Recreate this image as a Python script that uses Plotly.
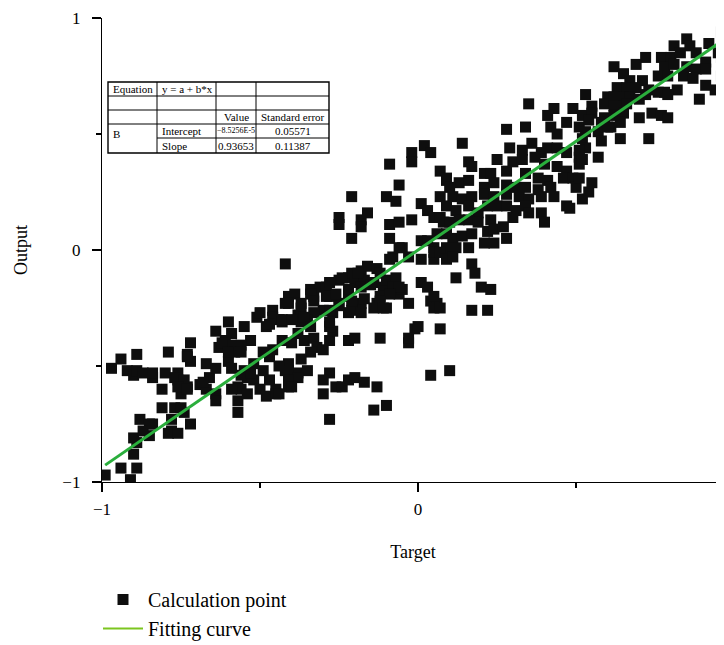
import plotly.graph_objects as go

# ---------------- data (data units) ----------------
pts_lower_left = [
    (-0.99, -0.97), (-0.94, -0.94), (-0.89, -0.94), (-0.91, -0.99), (-0.90, -0.88), (-0.89, -0.83),
    (-0.90, -0.81), (-0.88, -0.73), (-0.85, -0.75), (-0.85, -0.80), (-0.87, -0.78),
    (-0.97, -0.51), (-0.94, -0.47), (-0.92, -0.52), (-0.90, -0.54), (-0.89, -0.45), (-0.89, -0.52),
    (-0.87, -0.53), (-0.84, -0.55), (-0.84, -0.53),
    (-0.79, -0.44), (-0.80, -0.53), (-0.81, -0.60), (-0.81, -0.68), (-0.78, -0.73), (-0.78, -0.78),
    (-0.77, -0.68), (-0.76, -0.56), (-0.75, -0.62), (-0.73, -0.59), (-0.73, -0.45), (-0.72, -0.40),
    (-0.72, -0.48), (-0.72, -0.75), (-0.74, -0.70), (-0.76, -0.53),
    (-0.67, -0.49), (-0.69, -0.58), (-0.67, -0.60), (-0.66, -0.55), (-0.64, -0.51), (-0.64, -0.62),
    (-0.64, -0.35), (-0.63, -0.42), (-0.61, -0.39), (-0.60, -0.31), (-0.59, -0.36), (-0.59, -0.41),
    (-0.60, -0.48), (-0.58, -0.44), (-0.57, -0.59), (-0.56, -0.60), (-0.57, -0.70), (-0.57, -0.65),
    (-0.54, -0.55), (-0.55, -0.52), (-0.54, -0.62), (-0.53, -0.39), (-0.52, -0.49), (-0.52, -0.56),
    (-0.51, -0.29), (-0.50, -0.60), (-0.49, -0.52), (-0.48, -0.33), (-0.46, -0.43), (-0.45, -0.60),
    (-0.47, -0.46), (-0.44, -0.30), (-0.43, -0.39), (-0.42, -0.23), (-0.42, -0.52), (-0.41, -0.59),
    (-0.46, -0.26),
    (-0.38, -0.28), (-0.50, -0.27), (-0.46, -0.29), (-0.47, -0.32), (-0.43, -0.31), (-0.55, -0.33),
    (-0.62, -0.40), (-0.56, -0.41), (-0.60, -0.44), (-0.56, -0.44), (-0.49, -0.44), (-0.41, -0.49),
    (-0.44, -0.50), (-0.73, -0.46), (-0.59, -0.51), (-0.56, -0.54), (-0.53, -0.53), (-0.47, -0.56),
    (-0.41, -0.55), (-0.38, -0.53), (-0.77, -0.55), (-0.74, -0.56), (-0.76, -0.59), (-0.73, -0.60),
    (-0.68, -0.57), (-0.64, -0.65), (-0.59, -0.60), (-0.48, -0.63), (-0.45, -0.62), (-0.75, -0.68),
    (-0.84, -0.75), (-0.79, -0.79), (-0.76, -0.79),
]

pts_middle = [
    (0.02, 0.45), (0.04, 0.42), (-0.02, 0.42), (-0.02, 0.38), (-0.09, 0.37), (0.07, 0.34), (0.09, 0.30),
    (-0.06, 0.28), (-0.10, 0.23), (-0.07, 0.21), (-0.21, 0.23), (-0.25, 0.14), (-0.25, 0.11),
    (-0.18, 0.13), (-0.16, 0.16), (-0.18, 0.10), (-0.21, 0.05), (-0.09, 0.11), (-0.06, 0.12),
    (-0.02, 0.13), (0.01, 0.20), (0.03, 0.17), (0.05, 0.14), (0.08, 0.12), (0.06, 0.07), (0.01, 0.04),
    (0.05, 0.01), (0.08, -0.01), (-0.09, 0.05), (-0.05, 0.01), (-0.08, -0.03), (-0.03, -0.03),
    (0.01, -0.04), (0.05, -0.04),
    (-0.42, -0.06), (-0.41, -0.20), (-0.39, -0.19), (-0.41, -0.23), (-0.43, -0.30), (-0.37, -0.25),
    (-0.34, -0.17), (-0.33, -0.20), (-0.31, -0.16), (-0.29, -0.16), (-0.28, -0.20), (-0.25, -0.13),
    (-0.22, -0.12), (-0.21, -0.10), (-0.18, -0.09), (-0.16, -0.07), (-0.13, -0.08), (-0.12, -0.10),
    (-0.20, -0.14), (-0.17, -0.13), (-0.14, -0.14), (-0.11, -0.16), (-0.10, -0.13), (-0.07, -0.12),
    (-0.08, -0.16), (-0.06, -0.19), (-0.05, -0.17), (-0.12, -0.20), (-0.13, -0.23), (-0.10, -0.25),
    (-0.22, -0.20), (-0.18, -0.23), (-0.21, -0.26), (-0.25, -0.23), (-0.27, -0.27), (-0.30, -0.26),
    (-0.33, -0.27), (-0.35, -0.30), (-0.37, -0.31), (-0.38, -0.36), (-0.40, -0.40), (-0.36, -0.39),
    (-0.33, -0.38), (-0.32, -0.42), (-0.30, -0.43), (-0.28, -0.39), (-0.27, -0.35), (-0.28, -0.33),
    (-0.34, -0.44), (-0.37, -0.47), (-0.41, -0.52), (-0.35, -0.52), (-0.38, -0.55), (-0.41, -0.56),
    (-0.44, -0.62), (-0.40, -0.59), (-0.28, -0.53), (-0.30, -0.56), (-0.30, -0.62), (-0.26, -0.59),
    (-0.24, -0.59), (-0.22, -0.56), (-0.20, -0.55), (-0.17, -0.57), (-0.13, -0.59), (-0.14, -0.69),
    (-0.10, -0.67), (-0.28, -0.73),
    (-0.22, -0.39), (-0.20, -0.38), (-0.12, -0.38), (-0.03, -0.40), (-0.01, -0.34), (0.07, -0.34),
    (-0.03, -0.23), (0.01, -0.14), (0.03, -0.16), (0.04, -0.22), (0.06, -0.23), (0.04, -0.54),
    (0.10, -0.52),
    (-0.06, 0.01), (0.03, 0.04), (0.05, -0.01), (-0.09, -0.04), (-0.19, -0.10), (-0.24, -0.12),
    (-0.28, -0.14), (-0.34, -0.19), (-0.37, -0.23), (-0.33, -0.22), (-0.29, -0.20), (-0.26, -0.19),
    (-0.22, -0.17), (-0.18, -0.16), (-0.15, -0.15), (-0.06, -0.16), (-0.09, -0.19), (-0.12, -0.22),
    (-0.17, -0.21), (-0.21, -0.22), (-0.25, -0.24), (-0.28, -0.26), (-0.36, -0.29), (-0.40, -0.30),
    (-0.34, -0.33), (-0.28, -0.31), (-0.22, -0.27), (-0.18, -0.27), (-0.14, -0.25), (-0.11, -0.25),
    (0.05, -0.20), (0.05, -0.25), (0.00, -0.33), (-0.03, -0.38),
]

pts_upper_mid = [
    (0.53, 0.67), (0.35, 0.63), (0.43, 0.61), (0.49, 0.61), (0.41, 0.58), (0.47, 0.55), (0.51, 0.53),
    (0.28, 0.52), (0.34, 0.53), (0.42, 0.53), (0.44, 0.50), (0.52, 0.48), (0.14, 0.46), (0.29, 0.44),
    (0.33, 0.43), (0.36, 0.46), (0.39, 0.42), (0.41, 0.44), (0.44, 0.44), (0.47, 0.42), (0.51, 0.40),
    (0.53, 0.44), (0.16, 0.38), (0.17, 0.36), (0.25, 0.39), (0.30, 0.38), (0.33, 0.39), (0.37, 0.40),
    (0.40, 0.37), (0.44, 0.36), (0.47, 0.34), (0.51, 0.37),
    (0.09, 0.31), (0.13, 0.29), (0.16, 0.30), (0.21, 0.33), (0.23, 0.33), (0.28, 0.34), (0.34, 0.33),
    (0.38, 0.31), (0.41, 0.30), (0.46, 0.31), (0.49, 0.31), (0.50, 0.27), (0.42, 0.27), (0.10, 0.27),
    (0.21, 0.27), (0.24, 0.29), (0.28, 0.28), (0.31, 0.27), (0.34, 0.27), (0.38, 0.26),
    (0.07, 0.23), (0.11, 0.23), (0.14, 0.22), (0.17, 0.23), (0.21, 0.24), (0.24, 0.23), (0.28, 0.24),
    (0.32, 0.23), (0.35, 0.22), (0.39, 0.23), (0.43, 0.23), (0.47, 0.19), (0.48, 0.18), (0.52, 0.22),
    (0.09, 0.19), (0.12, 0.17), (0.16, 0.19), (0.19, 0.16), (0.22, 0.19), (0.25, 0.19), (0.28, 0.19),
    (0.31, 0.17), (0.30, 0.14), (0.34, 0.19), (0.35, 0.16), (0.39, 0.16), (0.40, 0.12),
    (0.07, 0.14), (0.10, 0.12), (0.13, 0.13), (0.16, 0.13), (0.19, 0.12), (0.23, 0.13), (0.22, 0.08),
    (0.24, 0.09), (0.27, 0.10), (0.28, 0.05), (0.24, 0.03), (0.21, 0.03), (0.09, 0.07), (0.11, 0.05),
    (0.14, 0.06), (0.17, 0.07), (0.16, 0.01), (0.12, 0.01), (0.09, 0.01), (0.07, -0.01), (0.09, -0.04),
    (0.11, -0.03), (0.17, -0.06), (0.18, -0.10), (0.12, -0.12), (0.20, -0.16), (0.23, -0.17),
    (0.17, -0.26), (0.22, -0.26), (0.07, -0.25),
]

pts_upper_right = [
    (0.96, 0.94), (0.85, 0.91), (0.86, 0.88), (0.81, 0.88), (0.92, 0.89), (0.95, 0.85), (0.72, 0.83),
    (0.77, 0.83), (0.80, 0.83), (0.83, 0.85), (0.88, 0.85), (0.91, 0.81), (0.96, 0.83), (0.62, 0.79),
    (0.69, 0.80), (0.78, 0.79), (0.81, 0.80), (0.85, 0.79), (0.88, 0.78), (0.91, 0.78), (0.65, 0.76),
    (0.67, 0.73), (0.71, 0.73), (0.76, 0.75), (0.79, 0.75), (0.84, 0.75), (0.87, 0.74), (0.63, 0.70),
    (0.66, 0.70), (0.69, 0.70), (0.73, 0.69), (0.78, 0.68), (0.82, 0.69), (0.60, 0.66), (0.62, 0.66),
    (0.65, 0.66), (0.67, 0.66), (0.70, 0.65), (0.72, 0.67), (0.76, 0.68), (0.79, 0.67), (0.55, 0.62),
    (0.59, 0.63), (0.62, 0.62), (0.65, 0.62), (0.66, 0.63), (0.52, 0.58), (0.55, 0.59), (0.59, 0.57),
    (0.62, 0.58), (0.65, 0.59), (0.54, 0.56), (0.58, 0.55), (0.61, 0.53), (0.64, 0.55), (0.70, 0.57),
    (0.74, 0.59), (0.77, 0.58), (0.79, 0.57), (0.53, 0.51), (0.57, 0.51), (0.60, 0.53), (0.64, 0.48),
    (0.58, 0.47), (0.73, 0.48), (0.51, 0.43), (0.57, 0.40), (0.52, 0.39), (0.51, 0.31), (0.55, 0.29),
    (0.54, 0.25), (0.96, 0.75), (0.94, 0.69), (0.89, 0.65), (0.91, 0.71),
]

fit_intercept = -8.5256e-5
fit_slope = 0.93653
fit_x = [-0.99, 0.97]

x_ticks = [-1, 0, 1]
x_minor = [-0.5, 0.5]
y_ticks = [-1, 0, 1]
y_minor = [-0.5, 0.5]

table_equation = ["Equation", "y = a + b*x"]
table_heads = ["Value", "Standard error"]
param_group = "B"
param_names = ["Intercept", "Slope"]
param_values = ["\u22128.5256E-5", "0.93653"]
param_errors = ["0.05571", "0.11387"]

# ---------------------------------------------------------------------------
all_pts = pts_lower_left + pts_middle + pts_upper_mid + pts_upper_right
calc_x = [p[0] for p in all_pts]
calc_y = [p[1] for p in all_pts]
fit_y = [fit_intercept + fit_slope * v for v in fit_x]

OFF = 8                      # default page margin of the html body
W, H = 724 - OFF, 645 - OFF
# plot area on screen: x 102..724, y 18..482
SX0, SX1, SY0, SY1 = 102, 724, 18, 482
ML, MR, MT, MB = SX0 - OFF, 0, SY0 - OFF, H - (SY1 - OFF)
PW, PH = SX1 - SX0, SY1 - SY0
SERIF = "Liberation Serif, Times New Roman, serif"


def PX(px):
    return (px - SX0) / PW


def PY(py):
    return (SY1 - py) / PH


fig = go.Figure()
fig.add_trace(go.Scatter(
    x=calc_x, y=calc_y, mode="markers", name="Calculation point",
    marker=dict(symbol="square", size=11, color="#0e0e0e", line=dict(width=0)),
    legendgroup="a",
))
fig.add_trace(go.Scatter(
    x=fit_x, y=fit_y, mode="lines", showlegend=False,
    line=dict(color="#2aae3c", width=3),
))
fig.add_trace(go.Scatter(
    x=[None], y=[None], mode="lines", name="Fitting curve",
    line=dict(color="#7cc51f", width=2), legendgroup="b",
))

axis_common = dict(
    showline=True, linecolor="black", linewidth=1.3,
    ticks="outside", ticklen=9, tickwidth=1.5, tickcolor="black",
    showgrid=False, zeroline=False,
    tickfont=dict(family=SERIF, size=17, color="black"),
)

fig.update_xaxes(
    range=[-1, 0.968], tickvals=x_ticks, ticklabelstandoff=2,
    minor=dict(tickvals=x_minor, ticks="outside", ticklen=5, tickwidth=1.5, tickcolor="black"),
    title=dict(text="Target", font=dict(family=SERIF, size=18, color="black"), standoff=27),
    **axis_common,
)
fig.update_yaxes(
    range=[-1, 1], tickvals=y_ticks, ticklabelstandoff=8,
    minor=dict(tickvals=y_minor, ticks="outside", ticklen=5, tickwidth=1.5, tickcolor="black"),
    title=dict(text="Output", font=dict(family=SERIF, size=18, color="black"), standoff=30),
    **axis_common,
)

# ---- table in the upper-left corner (screen pixel layout) ----
cx = [108, 157, 216, 256, 329]
ry = [82, 96, 110, 124, 138, 153]
shapes = []
shapes.append(dict(type="rect", xref="paper", yref="paper",
                   x0=PX(cx[0]), x1=PX(cx[-1]), y0=PY(ry[0]), y1=PY(ry[-1]),
                   line=dict(color="black", width=1.4), fillcolor="white", layer="above"))
for r in ry[1:4]:
    shapes.append(dict(type="line", xref="paper", yref="paper",
                       x0=PX(cx[0]), x1=PX(cx[-1]), y0=PY(r), y1=PY(r),
                       line=dict(color="black", width=1), layer="above"))
shapes.append(dict(type="line", xref="paper", yref="paper",
                   x0=PX(cx[1]), x1=PX(cx[-1]), y0=PY(ry[4]), y1=PY(ry[4]),
                   line=dict(color="black", width=1), layer="above"))
for c in cx[1:4]:
    shapes.append(dict(type="line", xref="paper", yref="paper",
                       x0=PX(c), x1=PX(c), y0=PY(ry[0]), y1=PY(ry[-1]),
                       line=dict(color="black", width=1), layer="above"))

ann = []


def txt(s, px, py, size=11, anchor="left"):
    ann.append(dict(text=s, x=PX(px), y=PY(py), xref="paper", yref="paper",
                    xanchor=anchor, yanchor="middle", showarrow=False,
                    font=dict(family=SERIF, size=size, color="black")))


rc = [(ry[i] + ry[i + 1]) / 2 for i in range(5)]
txt(table_equation[0], cx[0] + 3, rc[0])
txt(table_equation[1], cx[1] + 3, rc[0])
txt(table_heads[0], (cx[2] + cx[3]) / 2, rc[2], anchor="center")
txt(table_heads[1], (cx[3] + cx[4]) / 2, rc[2], anchor="center")
txt(param_group, cx[0] + 3, rc[3] + 3)
for i in range(2):
    txt(param_names[i], cx[1] + 3, rc[3 + i])
    txt(param_values[i], (cx[2] + cx[3]) / 2, rc[3 + i], size=(8 if i == 0 else 11), anchor="center")
    txt(param_errors[i], (cx[3] + cx[4]) / 2, rc[3 + i], anchor="center")

fig.update_layout(
    width=W, height=H,
    margin=dict(l=ML, r=MR, t=MT, b=MB, autoexpand=False),
    paper_bgcolor="white", plot_bgcolor="white",
    shapes=shapes, annotations=ann,
    legend=dict(x=PX(98), y=PY(580), xanchor="left", yanchor="top",
                font=dict(family=SERIF, size=20, color="black"),
                bgcolor="rgba(0,0,0,0)", tracegroupgap=0, itemwidth=40),
    showlegend=True,
)

fig.write_html("out.html")
